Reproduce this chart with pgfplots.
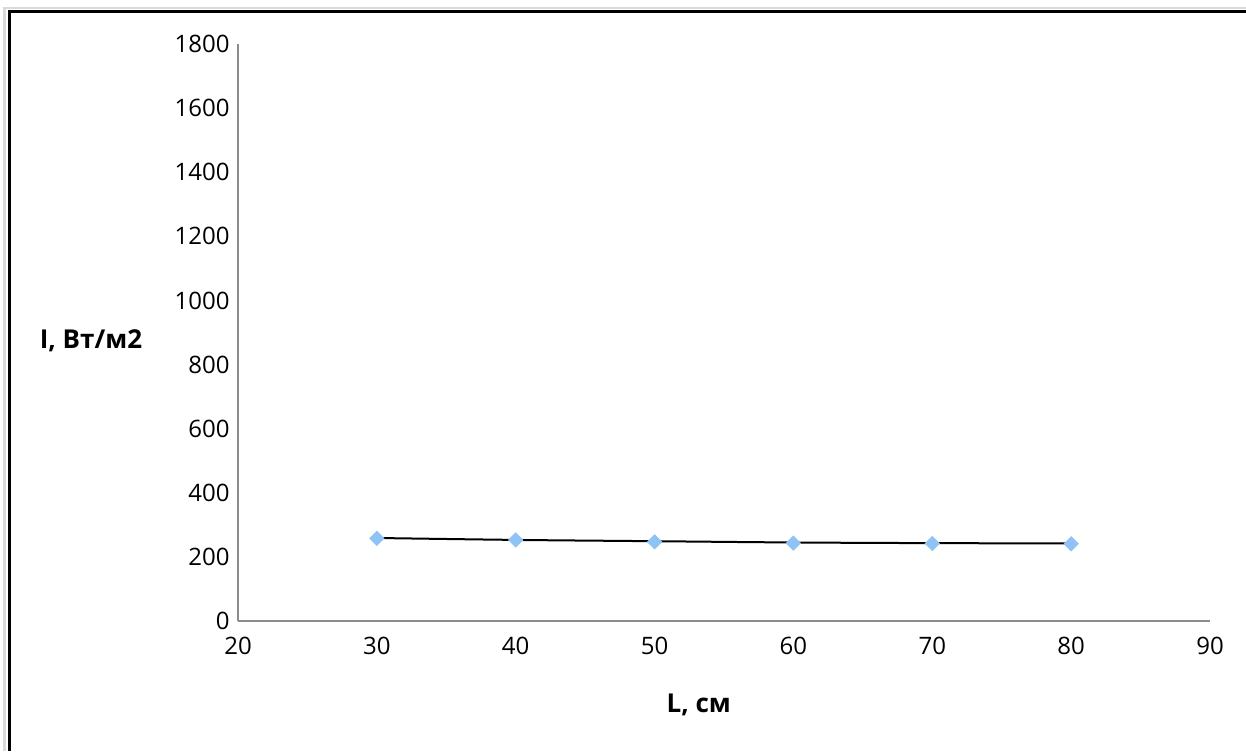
\documentclass[border=0pt]{standalone}
\usepackage{fontspec}
\setmainfont{Open Sans}
\usepackage{pgfplots}
\pgfplotsset{compat=1.18}
\definecolor{markblue}{HTML}{8FC3F5}
\definecolor{axgray}{HTML}{8C8C8C}
\definecolor{framegray}{HTML}{D9D9D9}

\begin{document}
\begin{tikzpicture}
% page is 1246x751 px at 0.5pt per px
\path[use as bounding box] (0,0) rectangle (623pt,-375.5pt);
\draw[framegray, line width=1.2pt] (2.25pt,-375.5pt) -- (2.25pt,-4pt) -- (623pt,-4pt);
\draw[black, line width=1.6pt] (4.6pt,-375.5pt) -- (4.6pt,-5.8pt) -- (623pt,-5.8pt);
\begin{axis}[
  at={(119pt,-310.5pt)}, anchor=south west,
  scale only axis, width=486pt, height=288.5pt,
  xmin=20, xmax=90, ymin=0, ymax=1800,
  xtick={20,30,...,90}, ytick={0,200,...,1800},
  axis lines*=left,
  axis line style={axgray, line width=0.8pt},
  major tick length=0pt,
  /pgf/number format/assume math mode=true,
  /pgf/number format/1000 sep={},
  tick label style={font=\fontsize{12}{14}\selectfont, black},
  yticklabel style={anchor=east, inner sep=0pt, xshift=-4pt},
  xticklabel style={anchor=center, inner sep=0pt, yshift=-12.5pt},
  xlabel={L, см}, ylabel={I, Вт/м2},
  label style={font=\fontsize{13}{15}\selectfont\bfseries},
  xlabel style={at={(axis description cs:0.474,0)}, anchor=center, yshift=-42pt},
  ylabel style={at={(axis description cs:0,0.485)}, rotate=-90, anchor=center, xshift=-73.5pt},
  clip=false,
]
\addplot[black, line width=1pt, smooth] coordinates {
  (30,259) (40,253) (50,249) (60,245) (70,243) (80,242)};
\addplot[only marks, mark=square*, mark size=2.5pt,
  mark options={rotate=45, fill=markblue, draw=markblue}]
  coordinates {(30,258) (40,253) (50,247) (60,243) (70,242) (80,241)};
\end{axis}
\end{tikzpicture}
\end{document}
